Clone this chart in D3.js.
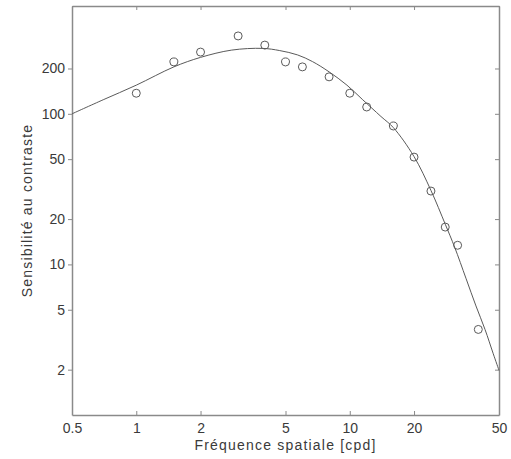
<!DOCTYPE html>
<html>
<head>
<meta charset="utf-8">
<script src="https://cdn.jsdelivr.net/npm/d3@7"></script>
<style>
  html, body { margin: 0; padding: 0; background: #fff; }
  svg { display: block; }
  text { font-family: "Liberation Sans", Arial, Helvetica, sans-serif; fill: #3a3a3a; }
</style>
</head>
<body>
<svg id="chart" width="511" height="459"></svg>
<script>
// Measured points (spatial frequency in cpd, contrast sensitivity)
const pointFreq = [1, 1.5, 2, 3, 4, 5, 6, 8, 10, 12, 16, 20, 24, 28, 32, 40];
const pointSens = [137, 221, 257, 329, 286, 221, 205, 176, 137, 111, 83, 51.6, 30.7, 17.7, 13.4, 3.7];

// Fitted curve
const curveFreq = [0.5, 0.7, 1, 1.5, 2, 2.8, 3.9, 4.7, 5.7, 6.7, 8, 9.7, 11.5, 14, 16, 20, 24, 28, 31, 35, 39, 43, 47, 50];
const curveSens = [100, 124, 155, 205, 237, 265, 272, 263, 246, 222, 190, 155, 124, 96, 81, 52, 31, 18.5, 13, 8.1, 5.3, 3.7, 2.55, 1.98];

const xTicks = [0.5, 1, 2, 5, 10, 20, 50];
const yTicks = [2, 5, 10, 20, 50, 100, 200];
const xTitle = "Fréquence spatiale [cpd]";
const yTitle = "Sensibilité au contraste";

const W = 511, H = 459;
const m = { left: 72, top: 6, right: 12, bottom: 44 };
const svg = d3.select("#chart");

const x = d3.scaleLog().domain([0.5, 50]).range([m.left, W - m.right]);
const y = d3.scaleLog().domain([1, 520]).range([H - m.bottom, m.top]);

const axisColor = "#8a8a8a";
const fmt = d => String(d);

// bottom axis (ticks inward)
const gx = svg.append("g").attr("transform", `translate(0,${H - m.bottom})`)
  .call(d3.axisBottom(x).tickValues(xTicks).tickFormat(fmt).tickSizeInner(-4).tickSizeOuter(0).tickPadding(8));
// top axis (ticks inward, no labels)
const gxt = svg.append("g").attr("transform", `translate(0,${m.top})`)
  .call(d3.axisTop(x).tickValues(xTicks).tickFormat("").tickSizeInner(-4).tickSizeOuter(0));
// left axis (short outward ticks)
const gy = svg.append("g").attr("transform", `translate(${m.left},0)`)
  .call(d3.axisLeft(y).tickValues(yTicks).tickFormat(fmt).tickSizeInner(4).tickSizeOuter(0).tickPadding(3));
// right axis (ticks inward)
const gyr = svg.append("g").attr("transform", `translate(${W - m.right},0)`)
  .call(d3.axisRight(y).tickValues(yTicks).tickFormat("").tickSizeInner(-4).tickSizeOuter(0));

[gx, gxt, gy, gyr].forEach(g => {
  g.select(".domain").attr("stroke", axisColor).attr("stroke-width", 1.5);
  g.selectAll(".tick line").attr("stroke", axisColor).attr("stroke-width", 1);
  g.selectAll(".tick text").attr("fill", "#3a3a3a").style("font-size", "14px");
});

// curve
const pts = curveFreq.map((f, i) => [f, curveSens[i]]);
const line = d3.line().x(d => x(d[0])).y(d => y(d[1])).curve(d3.curveCatmullRom.alpha(0.5));
svg.append("path").datum(pts).attr("d", line)
  .attr("fill", "none").attr("stroke", "#5a5a5a").attr("stroke-width", 1);

// data points
svg.append("g").selectAll("circle").data(pointFreq.map((f, i) => [f, pointSens[i]]))
  .join("circle")
  .attr("cx", d => x(d[0])).attr("cy", d => y(d[1])).attr("r", 4)
  .attr("fill", "none").attr("stroke", "#5a5a5a").attr("stroke-width", 1);

// titles
svg.append("text").attr("x", (m.left + W - m.right) / 2).attr("y", 450)
  .attr("text-anchor", "middle").style("font-size", "14px").style("letter-spacing", "1.2px").text(xTitle);
svg.append("text").attr("transform", `translate(32,${(m.top + H - m.bottom) / 2}) rotate(-90)`)
  .attr("text-anchor", "middle").style("font-size", "14px").style("letter-spacing", "1.2px").text(yTitle);
</script>
</body>
</html>
